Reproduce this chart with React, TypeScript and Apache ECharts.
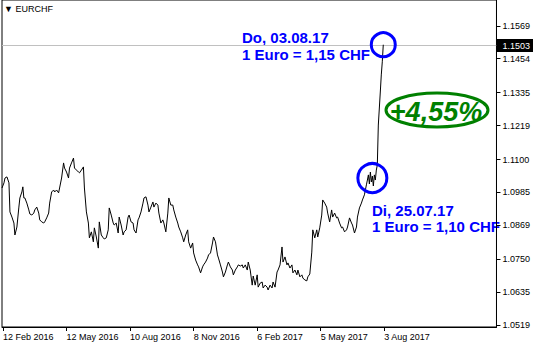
import React, { useEffect, useRef } from "react";
import * as echarts from "echarts";

const symbolName = "EURCHF";
const priceTickLabels = ["1.0519", "1.0635", "1.0750", "1.0869", "1.0985", "1.1100", "1.1219", "1.1335", "1.1454", "1.1569"];
const dateLabels = ["12 Feb 2016", "12 May 2016", "10 Aug 2016", "8 Nov 2016", "6 Feb 2017", "5 May 2017", "3 Aug 2017"];
const dateTickIndex = [1, 65, 129, 193, 257, 321, 385];

// trading-day index (1 bar per day)
const dayIndex = [
  0, 2, 3, 5, 7, 8, 10, 12, 13, 15, 17, 18, 20, 21, 22, 23, 25, 27, 28, 30, 32, 33, 35, 37, 38, 40, 42, 43, 45, 47, 48, 50,
  52, 53, 55, 57, 58, 60, 62, 63, 65, 67, 68, 70, 72, 73, 75, 77, 78, 80, 82, 83, 85, 87, 88, 90, 92, 93, 95, 97, 98, 100,
  102, 103, 105, 107, 108, 110, 112, 113, 115, 117, 118, 120, 122, 123, 125, 127, 128, 130, 132, 133, 135, 137, 138, 140,
  142, 143, 145, 147, 148, 150, 152, 153, 155, 157, 158, 160, 162, 163, 165, 167, 168, 170, 172, 173, 175, 177, 178, 180,
  182, 183, 185, 187, 188, 190, 192, 193, 195, 197, 198, 200, 202, 203, 205, 207, 208, 210, 212, 213, 215, 217, 218, 220,
  222, 223, 225, 227, 228, 230, 232, 233, 235, 237, 238, 240, 242, 243, 245, 247, 248, 250, 252, 253, 255, 257, 258, 260,
  262, 263, 265, 267, 268, 270, 272, 273, 275, 277, 278, 280, 282, 283, 285, 287, 288, 290, 292, 293, 295, 297, 298, 300,
  302, 303, 305, 307, 308, 310, 312, 313, 315, 317, 318, 320, 322, 323, 325, 327, 328, 330, 332, 333, 335, 337, 338, 340,
  342, 343, 345, 347, 348, 350, 352, 353, 355, 357, 358, 360, 362, 363, 365, 367, 368, 369, 370, 371, 372, 373, 374, 375,
  376, 377, 378, 379, 381, 382, 383, 384,
];

const closePrices = [
  1.1000, 1.1018, 1.1035, 1.1039, 1.1018, 1.0916, 1.0898, 1.0877, 1.0835, 1.0863, 1.0933, 1.0965, 1.0986, 1.1004, 1.0965, 1.0965,
  1.0947, 1.0923, 1.0909, 1.0905, 1.0912, 1.0923, 1.0933, 1.0912, 1.0888, 1.0881, 1.0877, 1.0881, 1.0895, 1.0912, 1.0947, 1.0986,
  1.0993, 1.0986, 1.0993, 1.0983, 1.1000, 1.1035, 1.1088, 1.1070, 1.1056, 1.1035, 1.1070, 1.1088, 1.1105, 1.1070, 1.1063, 1.1056,
  1.1053, 1.1063, 1.1074, 1.1000, 1.0916, 1.0877, 1.0825, 1.0846, 1.0811, 1.0860, 1.0828, 1.0789, 1.0881, 1.0835,
  1.0825, 1.0821, 1.0825, 1.0853, 1.0930, 1.0905, 1.0877, 1.0870, 1.0877, 1.0842, 1.0898, 1.0870, 1.0835, 1.0846, 1.0853, 1.0898,
  1.0905, 1.0881, 1.0877, 1.0853, 1.0842, 1.0888, 1.0895, 1.0916,
  1.0947, 1.0965, 1.0969, 1.0940, 1.0916, 1.0933, 1.0951, 1.0933, 1.0947, 1.0940, 1.0912, 1.0877, 1.0888, 1.0877, 1.0846, 1.0912,
  1.0965, 1.0940, 1.0940, 1.0923, 1.0898, 1.0877, 1.0863, 1.0846,
  1.0825, 1.0811, 1.0835, 1.0853, 1.0811, 1.0789, 1.0807, 1.0772, 1.0747, 1.0730, 1.0723, 1.0702, 1.0723, 1.0730, 1.0740, 1.0754,
  1.0765, 1.0772, 1.0807, 1.0828, 1.0811, 1.0765, 1.0754, 1.0730,
  1.0705, 1.0688, 1.0705, 1.0730, 1.0740, 1.0723, 1.0712, 1.0695, 1.0712, 1.0723, 1.0730, 1.0726, 1.0730, 1.0719, 1.0730, 1.0712,
  1.0740, 1.0712, 1.0659, 1.0691, 1.0659, 1.0695, 1.0652, 1.0666,
  1.0670, 1.0649, 1.0659, 1.0652, 1.0642, 1.0659, 1.0649, 1.0670, 1.0652, 1.0705, 1.0712, 1.0730, 1.0793, 1.0740, 1.0758, 1.0730,
  1.0737, 1.0719, 1.0730, 1.0702, 1.0712, 1.0695, 1.0712, 1.0688,
  1.0695, 1.0684, 1.0677, 1.0674, 1.0688, 1.0698, 1.0775, 1.0853, 1.0825, 1.0853, 1.0828, 1.0860, 1.0905, 1.0958, 1.0947, 1.0933,
  1.0912, 1.0881, 1.0923, 1.0898, 1.0912, 1.0895, 1.0898, 1.0877,
  1.0860, 1.0863, 1.0846, 1.0853, 1.0863, 1.0895, 1.0877, 1.0870, 1.0842, 1.0863, 1.0898, 1.0930, 1.0947, 1.0958, 1.0976, 1.1011,
  1.1028, 1.1046, 1.1014, 1.1056, 1.1021, 1.1042, 1.1007, 1.1046,
  1.1028, 1.1063, 1.1081, 1.1221, 1.1337, 1.1397, 1.1443, 1.1503,
];

const circledPoints = [
  { day: 384, price: 1.1503, size: 24 },
  { day: 373, price: 1.1035, size: 29 },
];

const Y_MIN = 1.0512;
const Y_MAX = 1.1660;

export default function App() {
  const ref = useRef<HTMLDivElement>(null);
  useEffect(() => {
    if (!ref.current) return;
    const chart = echarts.init(ref.current, null, { renderer: "svg" });
    const data = dayIndex.map((d, i) => [d, closePrices[i]]);
    const last = closePrices[closePrices.length - 1];
    const tickValues = priceTickLabels.map((s) => parseFloat(s));
    const axisFont = { fontFamily: "Liberation Sans, Arial, sans-serif", fontSize: 9, color: "#000" };
    const blueFont = "bold 15px 'Liberation Sans', Arial, sans-serif";
    chart.setOption({
      animation: false,
      backgroundColor: "#fff",
      grid: { left: 0, right: 35, top: 0, bottom: 17, show: true, borderColor: "#000", borderWidth: 1, containLabel: false },
      xAxis: {
        type: "value",
        min: 0,
        max: 498,
        axisLine: { show: true, lineStyle: { color: "#000", width: 1 } },
        axisTick: { show: true, customValues: dateTickIndex, length: 4, lineStyle: { color: "#000" } },
        axisLabel: {
          show: true,
          customValues: dateTickIndex,
          formatter: (v: number) => {
            const k = dateTickIndex.indexOf(Math.round(v));
            return k >= 0 ? dateLabels[k] : "";
          },
          align: "left",
          margin: 5,
          ...axisFont,
        },
        splitLine: { show: false },
      },
      yAxis: {
        type: "value",
        position: "right",
        min: Y_MIN,
        max: Y_MAX,
        axisLine: { show: true, onZero: false, lineStyle: { color: "#000", width: 1 } },
        axisTick: { show: true, customValues: tickValues, length: 4, lineStyle: { color: "#000" } },
        axisLabel: {
          show: true,
          customValues: tickValues,
          formatter: (v: number) => {
            let best = 0;
            tickValues.forEach((t, i) => {
              if (Math.abs(t - v) < Math.abs(tickValues[best] - v)) best = i;
            });
            return priceTickLabels[best];
          },
          margin: 6,
          ...axisFont,
        },
        splitLine: { show: false },
      },
      series: [
        {
          type: "line",
          data,
          showSymbol: false,
          symbol: "none",
          lineStyle: { color: "#000", width: 1 },
          z: 3,
          markLine: {
            silent: true,
            symbol: "none",
            data: [{ yAxis: last }],
            lineStyle: { color: "#c0c0c0", type: "solid", width: 1 },
            label: {
              show: true,
              position: "end",
              distance: 0,
              formatter: () => last.toFixed(4),
              backgroundColor: "#000",
              color: "#fff",
              fontFamily: "Liberation Sans, Arial, sans-serif",
              fontSize: 9,
              padding: [2, 4, 2, 6],
            },
            z: 1,
          },
          markPoint: {
            silent: true,
            symbol: "circle",
            data: circledPoints.map((p) => ({ coord: [p.day, p.price], symbolSize: p.size })),
            itemStyle: { color: "rgba(0,0,0,0)", borderColor: "#0000ff", borderWidth: 3 },
            label: { show: false },
          },
        },
      ],
      graphic: [
        {
          type: "text",
          left: 4,
          top: 4,
          style: { text: "▼ " + symbolName, fill: "#000", font: "9px 'Liberation Sans', Arial, sans-serif" },
        },
        {
          type: "text",
          x: 242,
          y: 37,
          style: { text: "Do, 03.08.17", fill: "#0000ff", font: blueFont, align: "left", verticalAlign: "middle" },
        },
        {
          type: "text",
          x: 242,
          y: 54,
          style: { text: "1 Euro = 1,15 CHF", fill: "#0000ff", font: blueFont, align: "left", verticalAlign: "middle" },
        },
        {
          type: "text",
          x: 372,
          y: 210,
          style: { text: "Di, 25.07.17", fill: "#0000ff", font: blueFont, align: "left", verticalAlign: "middle" },
        },
        {
          type: "text",
          x: 372,
          y: 226,
          style: { text: "1 Euro = 1,10 CHF", fill: "#0000ff", font: blueFont, align: "left", verticalAlign: "middle" },
        },
        {
          type: "ellipse",
          shape: { cx: 437, cy: 110, rx: 51, ry: 17 },
          style: { fill: "none", stroke: "#008000", lineWidth: 3 },
        },
        {
          type: "text",
          x: 436,
          y: 112,
          style: {
            text: "+4,55%",
            fill: "#008000",
            font: "italic bold 27px 'Liberation Sans', Arial, sans-serif",
            align: "center",
            verticalAlign: "middle",
          },
        },
      ],
    });
    return () => chart.dispose();
  }, []);
  return <div ref={ref} style={{ position: "absolute", left: 0, top: 0, width: 533, height: 344 }} />;
}
